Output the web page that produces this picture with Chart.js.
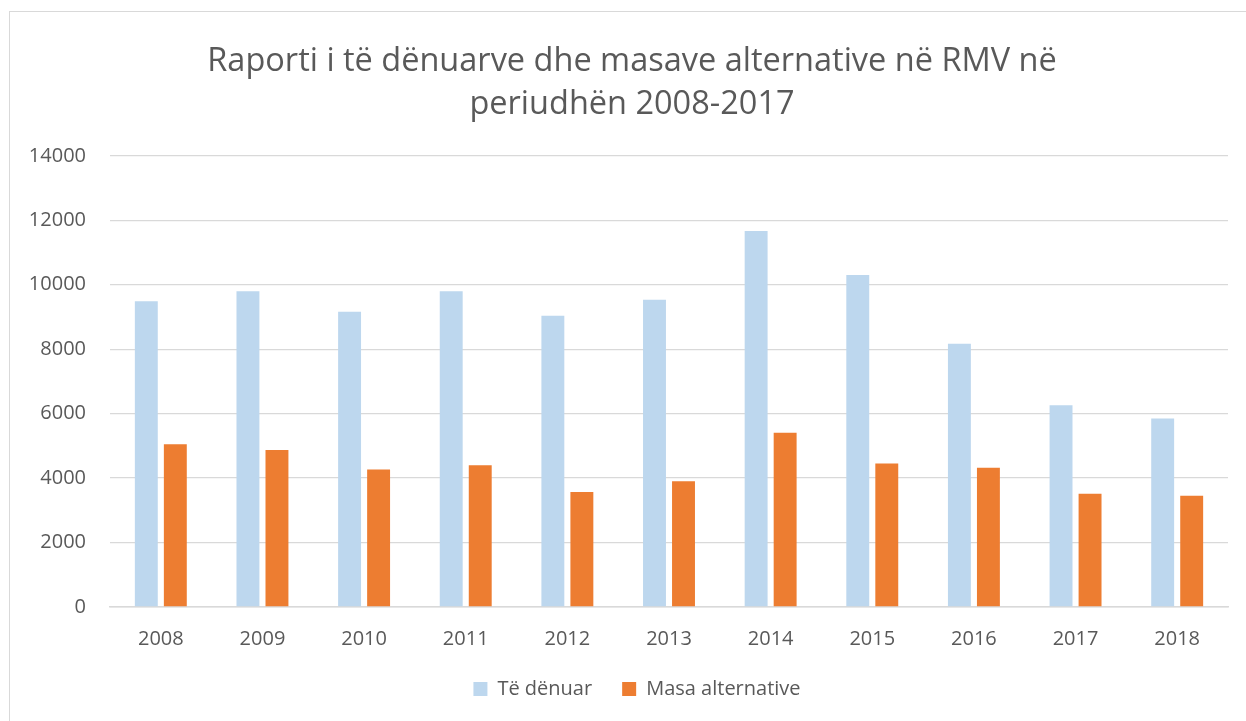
<!DOCTYPE html>
<html>
<head>
<meta charset="utf-8">
<script src="https://cdn.jsdelivr.net/npm/chart.js@4/dist/chart.umd.min.js"></script>
<style>
  html, body { margin: 0; padding: 0; width: 1246px; height: 721px; overflow: hidden; background: #fff; }
  #frame { position: absolute; left: 9px; top: 11px; width: 1260px; height: 740px; border: 1px solid #d9d9d9; box-sizing: border-box; }
  #wrap { position: absolute; left: 0; top: 0; width: 1246px; height: 721px; }
</style>
</head>
<body>
<div id="frame"></div>
<div id="wrap"><canvas id="c" width="1246" height="721"></canvas></div>
<script>
const categories = ["2008","2009","2010","2011","2012","2013","2014","2015","2016","2017","2018"];
const teDenuar = [9490, 9800, 9160, 9800, 9035, 9535, 11670, 10300, 8165, 6260, 5845];
const masaAlternative = [5050, 4870, 4270, 4395, 3565, 3905, 5410, 4455, 4320, 3515, 3450];
const seriesNames = ["Të dënuar", "Masa alternative"];
const titleLines = ["Raporti i të dënuarve dhe masave alternative në RMV në", "periudhën 2008-2017"];

const FONT = "'Open Sans', 'Liberation Sans', sans-serif";
const TXT = "#595959";

// centre the title and legend on the outer frame rather than the plot
const shiftBlocks = {
  id: "shiftBlocks",
  afterLayout(chart) {
    if (chart.titleBlock) { chart.titleBlock.left += 18; chart.titleBlock.right += 18; }
    if (chart.legend) { chart.legend.left += 23; chart.legend.right += 23; }
  }
};

new Chart(document.getElementById("c"), {
  type: "bar",
  data: {
    labels: categories,
    datasets: [
      { label: seriesNames[0], data: teDenuar, backgroundColor: "#BDD7EE", categoryPercentage: 0.571, barPercentage: 0.79 },
      { label: seriesNames[1], data: masaAlternative, backgroundColor: "#ED7D31", categoryPercentage: 0.571, barPercentage: 0.79 }
    ]
  },
  plugins: [shiftBlocks],
  options: {
    responsive: false,
    animation: false,
    layout: { padding: { left: 0, right: 18, top: 0, bottom: 12 } },
    plugins: {
      title: {
        display: true,
        text: titleLines,
        color: TXT,
        font: { family: FONT, size: 32.5, weight: "normal", lineHeight: 1.32 },
        padding: { top: 40, bottom: 30 }
      },
      legend: {
        position: "bottom",
        labels: {
          color: TXT,
          font: { family: FONT, size: 20 },
          boxWidth: 14,
          boxHeight: 14,
          padding: 30
        }
      },
      tooltip: { enabled: false }
    },
    scales: {
      x: {
        afterFit: (s) => { s.height = s.height - 22; },
        grid: { display: false, drawTicks: false },
        border: { display: true, color: "#d9d9d9", width: 1.5 },
        ticks: { color: TXT, font: { family: FONT, size: 20 }, padding: 20 }
      },
      y: {
        min: 0,
        max: 14000,
        afterFit: (s) => { s.width = 110; },
        grid: { color: "#d9d9d9", lineWidth: 1.3, drawTicks: false },
        border: { display: false },
        ticks: { stepSize: 2000, color: TXT, font: { family: FONT, size: 20 }, padding: 24,
                 callback: (v) => String(v) }
      }
    }
  }
});
</script>
</body>
</html>
